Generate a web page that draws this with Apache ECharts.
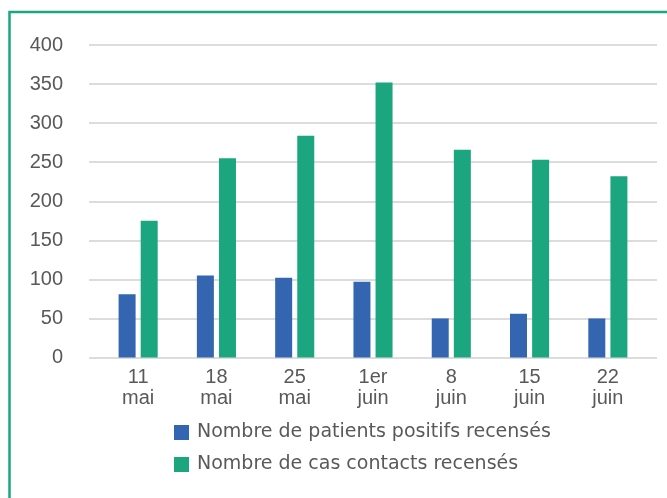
<!DOCTYPE html>
<html><head><meta charset="utf-8">
<script src="https://cdn.jsdelivr.net/npm/echarts@6/dist/echarts.min.js"></script>
<style>html,body{margin:0;padding:0;background:#fff}#c{width:667px;height:498px}</style>
</head><body><div id="c"></div>
<script>
const categories = ['11\nmai', '18\nmai', '25\nmai', '1er\njuin', '8\njuin', '15\njuin', '22\njuin'];
const positifs = [81, 105, 102, 97, 50, 56, 50];
const contacts = [175, 255, 284, 352, 266, 253, 232];
const seriesNames = ['Nombre de patients positifs recensés', 'Nombre de cas contacts recensés'];
const yMin = 0, yMax = 400, yStep = 50;

const FONT = 'Liberation Sans';
const TXT = '#595959';
const chart = echarts.init(document.getElementById('c'), null, {renderer: 'canvas'});
chart.setOption({
  animation: false,
  textStyle: {fontFamily: FONT},
  graphic: [{
    type: 'rect', shape: {x: 9.5, y: 12, width: 700, height: 520},
    style: {fill: 'none', stroke: '#1aa77f', lineWidth: 2.5}, z: 100
  }],
  grid: [
    {left: 99, right: 20, top: 45, bottom: 140.5},
    {left: 89, right: 10, top: 45, bottom: 140.5}
  ],
  legend: {
    orient: 'vertical', left: 169, top: 418, itemWidth: 15, itemHeight: 15, itemGap: 13,
    icon: 'rect',
    textStyle: {fontFamily: 'DejaVu Sans', fontSize: 19, color: TXT, padding: [0, 0, 0, 3]},
    data: seriesNames
  },
  xAxis: [
    {type: 'category', gridIndex: 0, data: categories,
     axisLine: {show: false}, axisTick: {show: false},
     axisLabel: {fontFamily: FONT, fontSize: 20, color: TXT, lineHeight: 21, margin: 9, interval: 0}},
    {type: 'category', gridIndex: 1, data: categories, show: false}
  ],
  yAxis: [
    {type: 'value', gridIndex: 0, min: yMin, max: yMax, interval: yStep, show: false,
     splitLine: {show: false}},
    {type: 'value', gridIndex: 1, min: yMin, max: yMax, interval: yStep,
     axisLine: {show: false}, axisTick: {show: false},
     axisLabel: {fontFamily: FONT, fontSize: 20, color: TXT, margin: 26},
     splitLine: {lineStyle: {color: '#d0d0d0', width: 1.5}}}
  ],
  series: [
    {name: seriesNames[0], type: 'bar', xAxisIndex: 0, yAxisIndex: 0, data: positifs,
     barWidth: 17, barGap: '30%', itemStyle: {color: '#3465b0'}},
    {name: seriesNames[1], type: 'bar', xAxisIndex: 0, yAxisIndex: 0, data: contacts,
     barWidth: 17, barGap: '30%', itemStyle: {color: '#1ca680'}}
  ]
});
</script></body></html>
